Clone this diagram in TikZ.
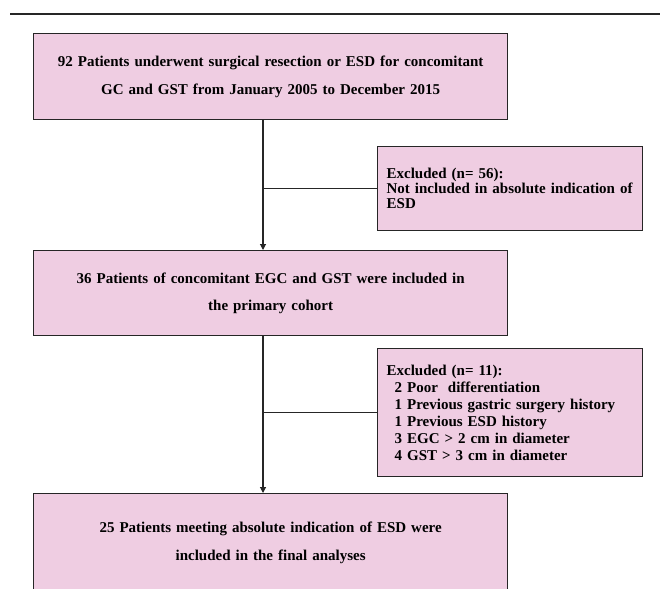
\documentclass[tikz,border=0pt]{standalone}
\usepackage{fontspec}
\setmainfont{Liberation Serif}
\usetikzlibrary{arrows.meta}
\definecolor{fcpink}{RGB}{239,205,226}
\definecolor{fcline}{RGB}{38,38,38}
\tikzset{fcbox/.style={rectangle,draw=fcline,fill=fcpink,line width=1.3bp,anchor=north west,inner sep=0pt,
           align=center,text width=474bp,font=\bfseries\fontsize{15bp}{27.5bp}\selectfont},
         fcexcl/.style={rectangle,draw=fcline,fill=fcpink,line width=1.3bp,anchor=north west,inner xsep=9bp,inner ysep=0pt,
           align=left,text width=247bp,font=\bfseries\fontsize{15bp}{15bp}\selectfont},
         fclink/.style={draw=fcline,line width=1.1bp},
         fcarr/.style={fclink,-{Triangle[length=6bp,width=6bp]}}}

\begin{document}
\begin{tikzpicture}[x=1bp,y=-1bp]
  \useasboundingbox (0,0) rectangle (660,589);
  \draw[fcline,line width=2.5bp] (10,14) -- (660,14);
  % main column
  \node[fcbox,minimum height=86bp] (all) at (33,33)
    {92 Patients underwent surgical resection or ESD for concomitant\\GC and GST from January 2005 to December 2015};
  \node[fcbox,minimum height=85bp] (cohort) at (33,250)
    {36 Patients of concomitant EGC and GST were included in\\the primary cohort};
  \node[fcbox,minimum height=98bp] (final) at (33,493)
    {25 Patients meeting absolute indication of ESD were\\included in the final analyses};
  % exclusions
  \node[fcexcl,minimum height=84bp] (ex56) at (377,146)
    {Excluded (n= 56):\\\mbox{Not included in absolute indication of}\\ESD};
  \node[fcexcl,minimum height=128bp,font=\bfseries\fontsize{15bp}{17bp}\selectfont] (ex11) at (377,348)
    {Excluded (n= 11):\\
     \hspace*{8bp}2 Poor\ \ differentiation\\
     \hspace*{8bp}1 Previous gastric surgery history\\
     \hspace*{8bp}1 Previous ESD history\\
     \hspace*{8bp}3 EGC > 2 cm in diameter\\
     \hspace*{8bp}4 GST > 3 cm in diameter};
  \coordinate (trunk) at (263,0);
  \draw[fcarr] (all.south -| trunk) -- (cohort.north -| trunk);
  \draw[fclink] (trunk |- ex56.west) -- (ex56.west);
  \draw[fcarr] (cohort.south -| trunk) -- (final.north -| trunk);
  \draw[fclink] (trunk |- ex11.west) -- (ex11.west);
\end{tikzpicture}
\end{document}
